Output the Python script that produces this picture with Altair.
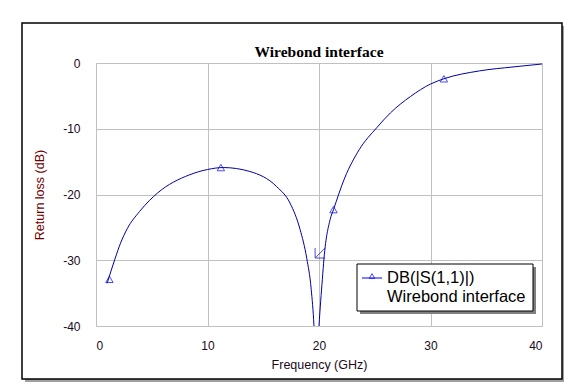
import altair as alt
import pandas as pd

# Curve
freq = [1.0, 1.7, 2.2, 2.8, 3.9, 4.8, 5.5, 8.4, 10.0, 11.4, 13.8, 16.2, 17.4, 18.3, 18.9,
        19.3, 19.55, 19.75, 20.0, 20.3, 20.45, 21.0, 21.3, 22.3, 23.6, 25.2, 26.4,
        28.2, 30.0, 31.2, 34.4, 37.4, 40.0]
db = [-33.5, -29.8, -27.4, -25.2, -22.6, -20.9, -19.8, -17.0, -16.2, -15.9, -16.5, -18.8,
      -21.3, -25.3, -29.7, -34.4, -40.0, -48.0, -40.0, -32.9, -29.7, -23.8, -22.3,
      -17.5, -13.2, -9.8, -7.6, -5.1, -3.2, -2.4, -1.2, -0.6, -0.15]

# Triangle markers
mk_freq = [1.2, 11.2, 21.3, 31.2]
mk_db = [-32.9, -15.9, -22.3, -2.4]

# Tuning arrow marker
arrow_freq = [20.1]
arrow_db = [-28.9]

x_ticks = [0, 10, 20, 30, 40]
y_ticks = [0, -10, -20, -30, -40]

title_text = "Wirebond interface"
legend_lines = ["DB(|S(1,1)|)", "Wirebond interface"]

curve = pd.DataFrame({"f": freq, "db": db})
marks = pd.DataFrame({"f": mk_freq, "db": mk_db})
arrow = pd.DataFrame({"f": arrow_freq, "db": arrow_db})
one = pd.DataFrame({"a": [0]})

xs = alt.Scale(domain=[0, 40], nice=False)
ys = alt.Scale(domain=[-40, 0], nice=False)

x_enc = alt.X("f:Q", scale=xs, axis=alt.Axis(values=x_ticks, title="Frequency (GHz)",
              ticks=False, domain=False, labelPadding=14, titlePadding=7,
              gridColor="#c0c0c0", labelColor="#1a0a20", titleColor="#1a0a20",
              labelFont="Liberation Sans", titleFont="Liberation Sans",
              labelFontSize=12, titleFontSize=12.5, titleFontWeight="normal",
              labelExpr="toString(datum.value)"))
y_enc = alt.Y("db:Q", scale=ys, axis=alt.Axis(values=y_ticks, title="Return loss (dB)",
              ticks=False, domain=False, labelPadding=16, titlePadding=16,
              gridColor="#c0c0c0", labelColor="#1a0a20", titleColor="#700000",
              labelFont="Liberation Sans", titleFont="Liberation Sans",
              labelFontSize=12, titleFontSize=12.5, titleFontWeight="normal",
              labelExpr="toString(datum.value)"))

shadow_r = alt.Chart(one).mark_rect(color="#a0a0a0", clip=False).encode(
    x=alt.value(466), x2=alt.value(469), y=alt.value(-37), y2=alt.value(319))
shadow_b = alt.Chart(one).mark_rect(color="#a0a0a0", clip=False).encode(
    x=alt.value(-71), x2=alt.value(469), y=alt.value(316), y2=alt.value(319))
frame = alt.Chart(one).mark_rect(fill=None, stroke="black", strokeWidth=1.5, clip=False).encode(
    x=alt.value(-74), x2=alt.value(466), y=alt.value(-40), y2=alt.value(316))

title = alt.Chart(one).mark_text(text=title_text, align="center", baseline="middle",
                                 font="Liberation Serif", fontSize=15.5, fontWeight="bold",
                                 color="black").encode(x=alt.value(223), y=alt.value(-11))

line = alt.Chart(curve).mark_line(color="#0000a0", strokeWidth=1, clip=True,
                                  interpolate="monotone").encode(x=x_enc, y=y_enc)
pts = alt.Chart(marks).mark_point(shape="triangle-up", filled=False, color="#0000ff",
                                  size=55, strokeWidth=1).encode(x="f:Q", y="db:Q")
arr = alt.Chart(arrow).mark_point(shape="M-1,-1 L-1,1 L1,1 M-1,1 L1,-1", filled=False,
                                  color="#0000c0", size=100, strokeWidth=1).encode(x="f:Q", y="db:Q")

leg_shadow = alt.Chart(one).mark_rect(color="#808080").encode(
    x=alt.value(264), x2=alt.value(440), y=alt.value(204), y2=alt.value(251))
leg_box = alt.Chart(one).mark_rect(fill="white", stroke="black", strokeWidth=1).encode(
    x=alt.value(261), x2=alt.value(437), y=alt.value(201), y2=alt.value(248))
leg_line = alt.Chart(one).mark_rule(color="#0000ff", strokeWidth=1).encode(
    x=alt.value(266), x2=alt.value(286), y=alt.value(215))
leg_sym = alt.Chart(one).mark_point(shape="triangle-up", filled=False, fill=None,
                                    color="#0000ff", size=30, strokeWidth=1).encode(
    x=alt.value(276), y=alt.value(213))
leg_t1 = alt.Chart(one).mark_text(text=legend_lines[0], align="left", baseline="middle",
                                  font="Liberation Sans", fontSize=16.5, color="black").encode(
    x=alt.value(291), y=alt.value(215))
leg_t2 = alt.Chart(one).mark_text(text=legend_lines[1], align="left", baseline="middle",
                                  font="Liberation Sans", fontSize=16.5, color="black").encode(
    x=alt.value(291), y=alt.value(234))

chart = alt.layer(shadow_r, shadow_b, frame, title, line, pts, arr,
                  leg_shadow, leg_box, leg_line, leg_sym, leg_t1, leg_t2).properties(
    width=446, height=263,
    autosize=alt.AutoSizeParams(type="none"),
    padding={"left": 88, "top": 55, "right": 22, "bottom": 56},
).configure_view(stroke="black", strokeWidth=1.2).configure(background="white")

chart.save("out.html", embed_options={"renderer": "svg", "actions": False})
